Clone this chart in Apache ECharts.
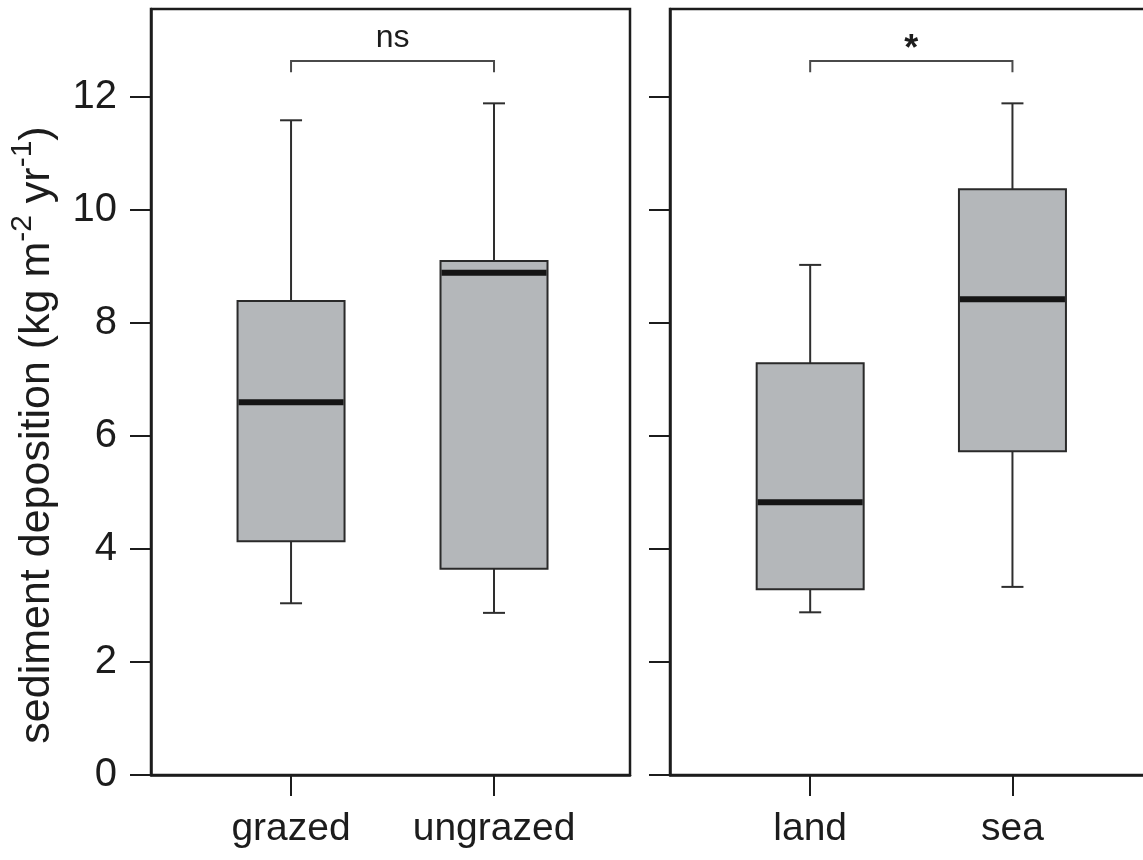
<!DOCTYPE html>
<html>
<head>
<meta charset="utf-8">
<script src="https://cdn.jsdelivr.net/npm/echarts@6/dist/echarts.min.js"></script>
<style>html,body{margin:0;padding:0;background:#fff;}#chart{width:1143px;height:860px;}</style>
</head>
<body>
<div id="chart"></div>
<script>
// ---- data ----
const groupsLeft = ['grazed', 'ungrazed'];
const groupsRight = ['land', 'sea'];
const whiskerLow  = [3.04, 2.87, 2.88, 3.33];
const q1          = [4.14, 3.65, 3.29, 5.73];
const median      = [6.60, 8.89, 4.83, 8.42];
const q3          = [8.39, 9.10, 7.29, 10.37];
const whiskerHigh = [11.59, 11.89, 9.03, 11.89];
const yTicks = [0, 2, 4, 6, 8, 10, 12];
const xTicks = [1, 2];
const sigLabels = ['ns', '*'];
const bracketHeight = [12.64, 12.64];
const bracketDrop = 0.2;
const yTitle = 'sediment deposition (kg m';

// ---- styling ----
const FONT = '"Liberation Sans", Arial, Helvetica, sans-serif';
const INK = '#1c1c1c';
const BOX_FILL = '#b4b7ba';

function boxRows(offset) {
  return xTicks.map((x, i) => {
    const k = offset + i;
    return [x, whiskerLow[k], q1[k], median[k], q3[k], whiskerHigh[k]];
  });
}

function renderBox(params, api) {
  const x = api.value(0);
  const pLo = api.coord([x, api.value(1)]);
  const pQ1 = api.coord([x, api.value(2)]);
  const pMed = api.coord([x, api.value(3)]);
  const pQ3 = api.coord([x, api.value(4)]);
  const pHi = api.coord([x, api.value(5)]);
  const cx = pLo[0];
  const hw = 53.5, cw = 11;
  const wStyle = { stroke: '#2e2e2e', lineWidth: 2 };
  return {
    type: 'group',
    children: [
      { type: 'line', shape: { x1: cx, y1: pQ3[1], x2: cx, y2: pHi[1] }, style: wStyle },
      { type: 'line', shape: { x1: cx - cw, y1: pHi[1], x2: cx + cw, y2: pHi[1] }, style: wStyle },
      { type: 'line', shape: { x1: cx, y1: pQ1[1], x2: cx, y2: pLo[1] }, style: wStyle },
      { type: 'line', shape: { x1: cx - cw, y1: pLo[1], x2: cx + cw, y2: pLo[1] }, style: wStyle },
      { type: 'rect', shape: { x: cx - hw, y: pQ3[1], width: 2 * hw, height: pQ1[1] - pQ3[1] },
        style: { fill: BOX_FILL, stroke: '#2a2a2a', lineWidth: 2 } },
      { type: 'line', shape: { x1: cx - hw + 1, y1: pMed[1], x2: cx + hw - 1, y2: pMed[1] },
        style: { stroke: '#151515', lineWidth: 6 } }
    ]
  };
}

function makeBracketRender(panel) {
  return function (params, api) {
    const x1 = api.value(0), x2 = api.value(1), y = api.value(2);
    const a = api.coord([x1, y]);
    const b = api.coord([x2, y]);
    const d = api.coord([x1, y - bracketDrop]);
    const label = sigLabels[panel];
    const isStar = label === '*';
    return {
      type: 'group',
      children: [
        { type: 'polyline', shape: { points: [[a[0], d[1]], [a[0], a[1]], [b[0], b[1]], [b[0], d[1]]] },
          style: { stroke: '#4a4a4a', lineWidth: 2, fill: null } },
        { type: 'text', x: (a[0] + b[0]) / 2, y: a[1] - (isStar ? 11 : 23),
          style: { text: label, fontSize: isStar ? 36 : 32, fontFamily: FONT, fill: INK,
                   align: 'center', verticalAlign: 'middle', fontWeight: isStar ? 'bold' : 'normal' } }
      ]
    };
  };
}

function xAxisCfg(gi, names, min, max) {
  return {
    gridIndex: gi, type: 'value', min: min, max: max,
    axisLine: { show: true, onZero: false, lineStyle: { color: INK, width: 2.5 } },
    axisTick: { show: true, customValues: xTicks, length: 21, lineStyle: { color: INK, width: 2 } },
    axisLabel: { show: true, customValues: xTicks, margin: 35, fontSize: 39, fontFamily: FONT, color: INK,
                 formatter: v => names[Math.round(v) - 1] || '' },
    splitLine: { show: false }
  };
}
function yAxisCfg(gi, showLabels) {
  return {
    gridIndex: gi, type: 'value', min: 0, max: 13.56,
    axisLine: { show: true, onZero: false, lineStyle: { color: INK, width: 2.5 } },
    axisTick: { show: true, customValues: yTicks, length: 21, lineStyle: { color: INK, width: 2 } },
    axisLabel: { show: showLabels, customValues: yTicks, margin: 34, fontSize: 40, fontFamily: FONT, color: INK,
                 padding: [0, 0, 6, 0] },
    splitLine: { show: false }
  };
}

const chart = echarts.init(document.getElementById('chart'), null, { renderer: 'canvas' });
chart.setOption({
  backgroundColor: '#ffffff',
  animation: false,
  grid: [
    { left: 151, top: 9, width: 479, height: 766, show: true, borderColor: INK, borderWidth: 2.5,
      backgroundColor: 'transparent', containLabel: false, outerBoundsMode: 'none' },
    { left: 670, top: 9, width: 480, height: 766, show: true, borderColor: INK, borderWidth: 2.5,
      backgroundColor: 'transparent', containLabel: false, outerBoundsMode: 'none' }
  ],
  xAxis: [xAxisCfg(0, groupsLeft, 0.31, 2.67), xAxisCfg(1, groupsRight, 0.307, 2.68)],
  yAxis: [yAxisCfg(0, true), yAxisCfg(1, false)],
  graphic: [{
    type: 'text', x: 37, y: 435, rotation: Math.PI / 2,
    style: {
      text: '{m|' + yTitle + '}{s|-2}{m| yr}{s|-1}{m|)}',
      align: 'center', verticalAlign: 'middle',
      rich: {
        m: { fontSize: 43, lineHeight: 58, fontFamily: FONT, fill: INK },
        s: { fontSize: 30, lineHeight: 30, fontFamily: FONT, fill: INK, verticalAlign: 'top' }
      }
    }
  }],
  series: [
    { type: 'custom', xAxisIndex: 0, yAxisIndex: 0, data: boxRows(0), renderItem: renderBox,
      encode: { x: 0, y: [1, 2, 3, 4, 5] }, clip: false },
    { type: 'custom', xAxisIndex: 1, yAxisIndex: 1, data: boxRows(2), renderItem: renderBox,
      encode: { x: 0, y: [1, 2, 3, 4, 5] }, clip: false },
    { type: 'custom', xAxisIndex: 0, yAxisIndex: 0, data: [[xTicks[0], xTicks[1], bracketHeight[0]]],
      renderItem: makeBracketRender(0), encode: { x: [0, 1], y: 2 }, clip: false },
    { type: 'custom', xAxisIndex: 1, yAxisIndex: 1, data: [[xTicks[0], xTicks[1], bracketHeight[1]]],
      renderItem: makeBracketRender(1), encode: { x: [0, 1], y: 2 }, clip: false }
  ]
});
</script>
</body>
</html>
